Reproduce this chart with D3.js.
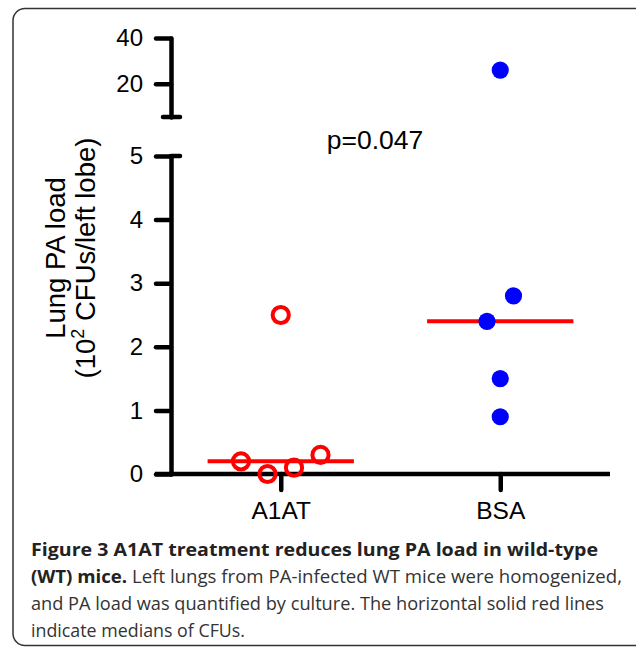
<!DOCTYPE html>
<html>
<head>
<meta charset="utf-8">
<script src="https://cdn.jsdelivr.net/npm/d3@7"></script>
<style>
    body { margin: 0; background: #fff; }
    svg { display: block; }
</style>
</head>
<body>
<script>
// Lung PA load per mouse (10^2 CFUs / left lobe).
// Values are listed in the left-to-right order the dots sit in.
var categories = ["A1AT", "BSA"];
var a1atValues = [2.5, 0.2, 0, 0.1, 0.3];
var bsaValues = [26, 2.4, 2.8, 1.5, 0.9];
var upperTicks = [20, 40];
var lowerTicks = [0, 1, 2, 3, 4, 5];
var pValueLabel = "p=0.047";
var captionBold = "Figure 3 A1AT treatment reduces lung PA load in wild-type";
var captionLines = [
    ["(WT) mice.", " Left lungs from PA-infected WT mice were homogenized,"],
    ["", "and PA load was quantified by culture. The horizontal solid red lines"],
    ["", "indicate medians of CFUs."]
];

var groups = [
    {key: categories[0], values: a1atValues, open: true},
    {key: categories[1], values: bsaValues, open: false}
];

var width = 636,
    height = 647;

var svg = d3.select("body").append("svg")
    .attr("width", width)
    .attr("height", height);

// rounded frame round the whole figure
svg.append("rect")
    .attr("x", 13).attr("y", 8.5)
    .attr("width", 640).attr("height", 637)
    .attr("rx", 12).attr("ry", 12)
    .attr("fill", "none")
    .attr("stroke", "#333")
    .attr("stroke-width", 1.5);

// broken y axis: a squeezed top segment and the 0-5 segment
var axisX = 171;
var yUpper = d3.scaleLinear().domain([5.5, 40]).range([117, 38]);
var yLower = d3.scaleLinear().domain([0, 5]).range([474, 156]);
function yPos(v) { return v > 5 ? yUpper(v) : yLower(v); }

var xScale = d3.scalePoint().domain(categories)
    .range([axisX, 610]).padding(0.5);

var lineW = 4.5;

function styleAxis(g) {
    g.selectAll("path, line")
        .attr("stroke", "#000")
        .attr("stroke-width", lineW)
        .attr("stroke-linecap", "round");
    g.selectAll("text")
        .attr("fill", "#000")
        .attr("font-family", "'Liberation Sans', Arial, sans-serif");
}

svg.append("g")
    .attr("transform", "translate(" + axisX + ",0)")
    .call(d3.axisLeft(yUpper).tickValues(upperTicks)
        .tickFormat(d3.format("d"))
        .tickSize(15).tickSizeOuter(0).tickPadding(13))
    .call(styleAxis)
    .selectAll("text").attr("font-size", "24px");

svg.append("g")
    .attr("transform", "translate(" + axisX + ",0)")
    .call(d3.axisLeft(yLower).tickValues(lowerTicks)
        .tickFormat(d3.format("d"))
        .tickSize(15).tickSizeOuter(0).tickPadding(13))
    .call(styleAxis)
    .selectAll("text").attr("font-size", "24px");

// little caps where the axis is broken
var caps = [
    {y: yUpper.range()[0], x1: axisX - 8, x2: axisX + 9},
    {y: yLower.range()[1], x1: axisX, x2: axisX + 9}
];
svg.selectAll("line.cap")
    .data(caps)
    .enter()
    .append("line")
    .attr("class", "cap")
    .attr("x1", function(d) { return d.x1; })
    .attr("x2", function(d) { return d.x2; })
    .attr("y1", function(d) { return d.y; })
    .attr("y2", function(d) { return d.y; })
    .attr("stroke", "#000")
    .attr("stroke-width", lineW)
    .attr("stroke-linecap", "round");

// x axis runs on past the last group
var xAxisG = svg.append("g")
    .attr("transform", "translate(0," + yLower(0) + ")")
    .call(d3.axisBottom(xScale).tickSize(16).tickSizeOuter(0).tickPadding(12))
    .call(styleAxis);
xAxisG.select(".domain").attr("d", "M155,0H610").attr("stroke-linecap", "butt");
xAxisG.selectAll("text").attr("font-size", "24.5px");

// y axis title, two lines
var yTitle = svg.append("text")
    .attr("transform", "translate(65,258)rotate(-90)")
    .attr("text-anchor", "middle")
    .attr("font-family", "'Liberation Sans', Arial, sans-serif")
    .attr("font-size", "27.5px")
    .attr("fill", "#000");
yTitle.append("tspan").attr("x", 0).attr("y", 0).text("Lung PA load");
var t2 = yTitle.append("tspan").attr("x", 0).attr("y", 30);
t2.append("tspan").text("(10");
t2.append("tspan").attr("font-size", "18px").attr("dy", -11).text("2");
t2.append("tspan").attr("dy", 11).text(" CFUs/left lobe)");

// spread out dots that would sit on top of each other, keeping array order
var step = xScale.step();
function spreadGroup(g) {
    var pts = g.values.map(function(v) { return {v: v, y: yPos(v)}; });
    var clusters = [], cur = [pts[0]];
    for (var i = 1; i < pts.length; i++) {
        if (Math.abs(pts[i].y - pts[i - 1].y) < 30) cur.push(pts[i]);
        else { clusters.push(cur); cur = [pts[i]]; }
    }
    clusters.push(cur);
    clusters.forEach(function(c) {
        c.forEach(function(p, j) {
            p.x = xScale(g.key) + (j - (c.length - 1) / 2) * step * 0.1207;
        });
    });
    return pts;
}

// medians first so the dots sit on top of them
svg.selectAll("line.median")
    .data(groups)
    .enter()
    .append("line")
    .attr("class", "median")
    .attr("x1", function(d) { return xScale(d.key) - step / 3; })
    .attr("x2", function(d) { return xScale(d.key) + step / 3; })
    .attr("y1", function(d) { return yPos(d3.median(d.values)); })
    .attr("y2", function(d) { return yPos(d3.median(d.values)); })
    .attr("stroke", "#ff0000")
    .attr("stroke-width", 4);

groups.forEach(function(g) {
    svg.append("g").selectAll("circle")
        .data(spreadGroup(g))
        .enter()
        .append("circle")
        .attr("cx", function(d) { return d.x; })
        .attr("cy", function(d) { return d.y; })
        .attr("r", g.open ? 8.1 : 8.6)
        .attr("fill", g.open ? "none" : "#0000ff")
        .attr("stroke", g.open ? "#ff0000" : "none")
        .attr("stroke-width", 4);
});

svg.append("text")
    .attr("x", 375).attr("y", 149)
    .attr("text-anchor", "middle")
    .attr("font-family", "'Liberation Sans', Arial, sans-serif")
    .attr("font-size", "26.5px")
    .attr("fill", "#000")
    .text(pValueLabel);

// figure caption
var capFont = "'Open Sans', 'Noto Sans', sans-serif";
var capWidths = [567, 591, 573, 214];
var capY = [556, 583, 610, 637];
var allLines = [["", captionBold]].concat(captionLines);
allLines.forEach(function(parts, i) {
    var t = svg.append("text")
        .attr("x", 31).attr("y", capY[i])
        .attr("font-family", capFont)
        .attr("font-size", "17.5px")
        .attr("fill", "#333")
        .attr("textLength", capWidths[i])
        .attr("lengthAdjust", "spacingAndGlyphs");
    if (i === 0) {
        t.append("tspan").attr("font-weight", "bold").attr("fill", "#222").text(parts[1]);
    } else {
        if (parts[0]) t.append("tspan").attr("font-weight", "bold").attr("fill", "#222").text(parts[0]);
        t.append("tspan").text(parts[1]);
    }
});
</script>
</body>
</html>
